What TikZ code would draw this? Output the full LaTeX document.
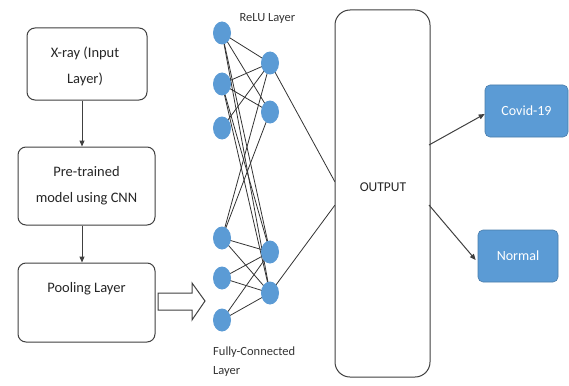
\documentclass[tikz,border=0pt]{standalone}
\usepackage{fontspec}
\setmainfont{Carlito}
\usetikzlibrary{shapes.geometric,arrows.meta,calc,backgrounds}
\definecolor{nodeblue}{HTML}{5B9BD5}
\definecolor{edgegray}{HTML}{404040}
\tikzset{
  flowbox/.style={draw=edgegray, line width=1pt, rounded corners=8pt, fill=white},
  neuron/.style={ellipse, fill=nodeblue, draw=none, minimum width=18pt, minimum height=23pt, inner sep=0pt},
  classbox/.style={draw=nodeblue!80!black, line width=0.6pt, fill=nodeblue, rounded corners=5pt, text=white, font=\fontsize{14}{16}\selectfont},
  boxtext/.style={font=\fontsize{14.5}{26}\selectfont, text=black!85, align=center},
  smalltext/.style={font=\fontsize{12.5}{19}\selectfont, text=black!80, align=left},
  arr/.style={-{Triangle[length=6pt,width=5pt]}, draw=edgegray, line width=1pt},
  wire/.style={draw=black!80, line width=0.8pt},
}
\begin{document}
\begin{tikzpicture}[x=1pt,y=-1pt]
\useasboundingbox (0,0) rectangle (569,385);

% flowchart boxes
\node[flowbox, minimum width=120pt, minimum height=72pt] (b1) at (87,64) {};
\node[boxtext] (t1) at (85,66) {X-ray (Input\\Layer)};
\node[flowbox, minimum width=137pt, minimum height=78pt] (b2) at (86.5,186) {};
\node[boxtext] (t2) at (86.5,186) {Pre-trained\\model using CNN};
\node[flowbox, minimum width=137pt, minimum height=79pt] (b3) at (86.5,302.5) {};
\node[boxtext] (t3) at (86.5,289) {Pooling Layer};

\draw[arr] ([xshift=-5pt]b1.south) -- ([xshift=-4.5pt]b2.north);
\draw[arr] ([xshift=-4.5pt]b2.south) -- ([xshift=-4.5pt]b3.north);

% hollow arrow
\draw[edgegray, line width=1pt, fill=white]
  (158,293) -- (192,293) -- (192,283) -- (205,301) -- (192,320) -- (192,310) -- (158,310) -- cycle;

% neurons
\node[neuron] (L1) at (222,33) {};
\node[neuron] (L2) at (222,84) {};
\node[neuron] (L3) at (222,128) {};
\node[neuron] (L4) at (222,238) {};
\node[neuron] (L5) at (222,278) {};
\node[neuron] (L6) at (222,320) {};
\node[neuron] (R1) at (270,63) {};
\node[neuron] (R2) at (270,112) {};
\node[neuron] (R3) at (270,252) {};
\node[neuron] (R4) at (270,293) {};

\node[smalltext, anchor=west] (relu) at (236,18) {ReLU Layer};
\node[smalltext, anchor=north west, inner sep=0pt] (fc) at (213,347) {Fully-Connected\\Layer};

% output box
\node[flowbox, rounded corners=15pt, minimum width=95pt, minimum height=367pt] (out) at (382.5,193.5) {};
\node[boxtext, font=\fontsize{13.5}{16}\selectfont] (ot) at (383,187) {OUTPUT};
\coordinate (o1) at (335,182);
\coordinate (o2) at (335,205);

\begin{pgfonlayer}{background}
\foreach \a/\b in {L1/R1,L1/R2,L1/R3,L1/R4,L2/R1,L2/R2,L2/R3,L2/R4,L3/R1,L4/R1,L4/R2,L4/R3,L4/R4,L5/R3,L5/R4,L6/R3,L6/R4}{
  \draw[wire] (\a.center) -- (\b.center);
}
\draw[wire] (R1.center) -- (o1);
\draw[wire] (R4.center) -- (o2);
\end{pgfonlayer}

% class boxes
\node[classbox, minimum width=83pt, minimum height=52pt] (cv) at (526.5,111) {Covid-19};
\node[classbox, minimum width=80pt, minimum height=52pt] (nm) at (518,256) {Normal};
\coordinate (a1) at (429,145);
\coordinate (a2) at (429,205);
\draw[arr] (a1) -- ([yshift=-3pt]cv.west);
\draw[arr] (a2) -- ([xshift=-2pt,yshift=-4pt]nm.west);
\end{tikzpicture}
\end{document}
